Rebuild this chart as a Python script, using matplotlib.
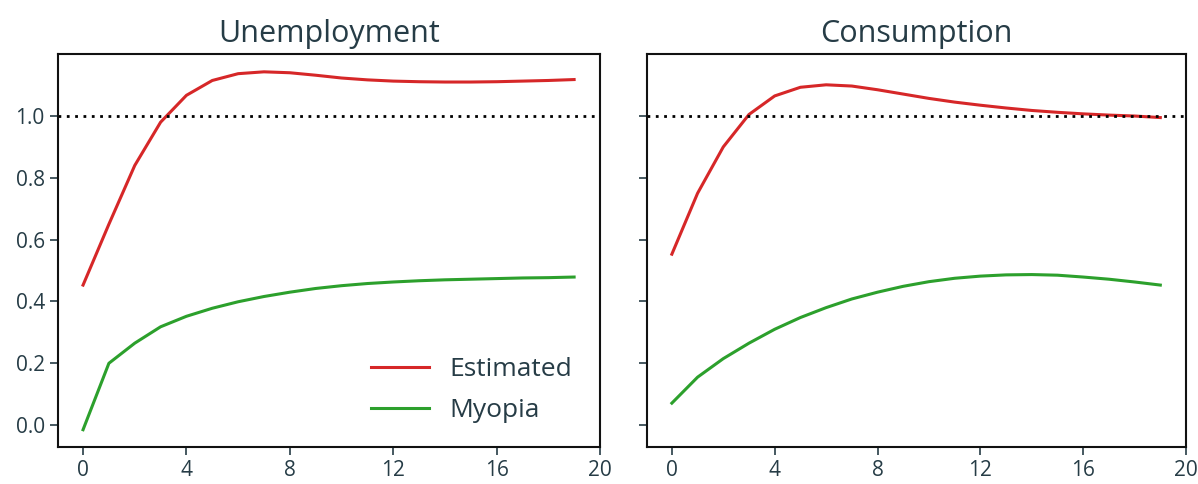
import numpy as np
import matplotlib
matplotlib.use("Agg")
import matplotlib.pyplot as plt

plt.rcParams['font.family'] = ['Open Sans', 'DejaVu Sans']

horizon = list(range(20))
titles = ["Unemployment", "Consumption"]
series_labels = ["Estimated", "Myopia"]

unemp_estimated = [0.453, 0.65, 0.84, 0.98, 1.067, 1.115, 1.137, 1.143, 1.140, 1.132,
                   1.123, 1.117, 1.113, 1.111, 1.110, 1.110, 1.111, 1.113, 1.115, 1.118]
unemp_myopia = [-0.015, 0.20, 0.265, 0.318, 0.352, 0.378, 0.399, 0.416, 0.430, 0.442,
                0.451, 0.458, 0.463, 0.467, 0.470, 0.472, 0.474, 0.476, 0.477, 0.479]
cons_estimated = [0.553, 0.75, 0.90, 1.005, 1.065, 1.093, 1.101, 1.097, 1.085, 1.071,
                  1.057, 1.045, 1.035, 1.026, 1.018, 1.012, 1.007, 1.003, 1.000, 0.995]
cons_myopia = [0.071, 0.155, 0.215, 0.265, 0.31, 0.348, 0.38, 0.408, 0.43, 0.449,
               0.464, 0.475, 0.482, 0.486, 0.487, 0.485, 0.479, 0.472, 0.463, 0.453]

xticks = [0, 4, 8, 12, 16, 20]
yticks = [0.0, 0.2, 0.4, 0.6, 0.8, 1.0]

text_color = "#263c46"
red = "#d62728"
green = "#2ca02c"

fig = plt.figure(figsize=(11.98, 4.84), dpi=100)
ax1 = fig.add_axes([0.0484, 0.0764, 0.4524, 0.8116])
ax2 = fig.add_axes([0.540, 0.0764, 0.450, 0.8116], sharey=ax1)

data = [(unemp_estimated, unemp_myopia), (cons_estimated, cons_myopia)]
for ax, title, (est, myo) in zip([ax1, ax2], titles, data):
    ax.plot(horizon, est, color=red, lw=2.2, label=series_labels[0])
    ax.plot(horizon, myo, color=green, lw=2.2, label=series_labels[1])
    ax.axhline(1.0, color="black", ls=(0, (1, 2)), lw=2.0)
    ax.set_xlim(-0.97, 20)
    ax.set_ylim(-0.071, 1.20)
    ax.set_xticks(xticks)
    ax.set_yticks(yticks)
    ax.set_yticklabels([f"{v:.1f}" for v in yticks])
    ax.set_title(title, fontsize=22, color=text_color, pad=9)
    ax.tick_params(direction="out", length=6, width=1.2, colors=text_color,
                   labelsize=15, labelcolor=text_color)
    for sp in ax.spines.values():
        sp.set_color("#111111")
        sp.set_linewidth(1.5)

ax2.tick_params(labelleft=False)

leg = ax1.legend(loc="lower right", frameon=False, fontsize=19,
                 handlelength=2.2, handletextpad=0.75, labelspacing=0.6,
                 bbox_to_anchor=(0.992, 0.0))
for t in leg.get_texts():
    t.set_color(text_color)

fig.savefig("out.png", dpi=100)
